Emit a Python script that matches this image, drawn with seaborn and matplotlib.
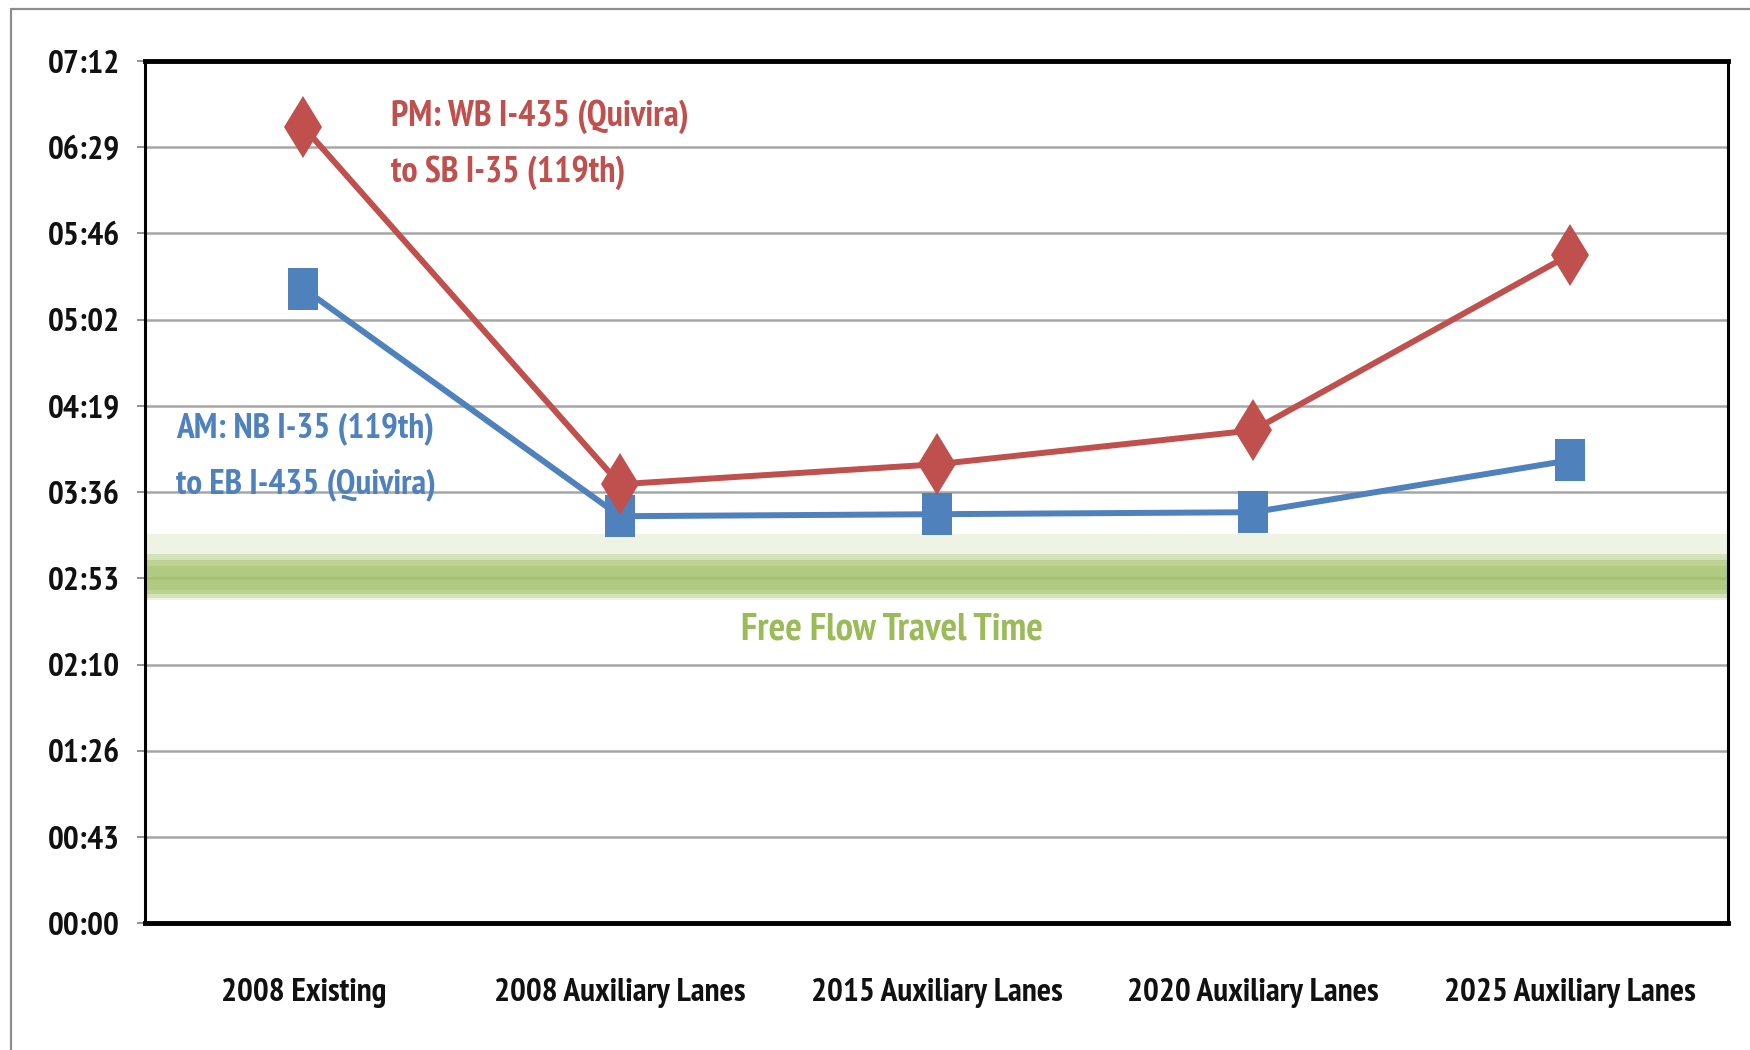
import numpy as np
import pandas as pd
import matplotlib
matplotlib.use("Agg")
import matplotlib.pyplot as plt
from matplotlib.ticker import MultipleLocator, FixedLocator, FuncFormatter
from matplotlib.lines import Line2D
import seaborn as sns

# data (travel time in seconds)
scenarios = ["2008 Existing", "2008 Auxiliary Lanes", "2015 Auxiliary Lanes",
             "2020 Auxiliary Lanes", "2025 Auxiliary Lanes"]
pm_times = [399, 220, 230, 247, 335]
am_times = [318, 204, 205, 206, 232]
free_flow = 172.8

pm_label = ["PM: WB I-435 (Quivira)", "to SB I-35 (119th)"]
am_label = ["AM: NB I-35 (119th)", "to EB I-435 (Quivira)"]
ff_label = "Free Flow Travel Time"

df = pd.DataFrame({"scenario": scenarios, "PM": pm_times, "AM": am_times})

sns.set_style("white")
plt.rcParams['font.family'] = ['PT Sans Narrow', 'Carlito', 'DejaVu Sans']

RED = "#c0504d"
BLUE = "#4f81bd"
GREEN = "#9bbb59"

fig = plt.figure(figsize=(17.5, 10.5), dpi=100)
ax = fig.add_axes([0.0829, 0.1205, 0.9046, 0.8214])

# free flow band (soft glow)
ax.axhspan(162, 195, color="#eef3e3", lw=0, zorder=1)
ax.axhspan(163, 185, color="#d3e2b8", lw=0, zorder=1.1)
ax.axhspan(165, 182, color="#bcd293", lw=0, zorder=1.2)
ax.axhspan(167, 179, color="#b0ca82", lw=0, zorder=1.25)
ax.axhline(free_flow, color="#a4c174", lw=2, zorder=1.3)

sq = [(-0.73, -1), (0.73, -1), (0.73, 1), (-0.73, 1), (-0.73, -1)]
sns.lineplot(data=df, x="scenario", y="AM", ax=ax, color=BLUE, lw=4.3,
             marker=sq, markersize=30, markeredgewidth=0, sort=False, zorder=3)
sns.lineplot(data=df, x="scenario", y="PM", ax=ax, color=RED, lw=4.3,
             marker="d", markersize=32, markeredgewidth=0, sort=False, zorder=4)

ax.set_xlim(-0.5, 4.5)
ax.set_ylim(0, 432)
ax.set_xlabel("")
ax.set_ylabel("")

ax.yaxis.set_major_locator(MultipleLocator(43.2))
ax.yaxis.set_major_formatter(FuncFormatter(
    lambda v, p: "%02d:%02d" % divmod(int(round(v)), 60)))
ax.grid(axis="y", color="#a6a6a6", lw=1.8, zorder=0)
ax.set_axisbelow(True)

ax.xaxis.set_minor_locator(FixedLocator(np.arange(-0.5, 5, 1.0)))
ax.tick_params(axis="x", which="major", length=0, pad=39, labelsize=24)
ax.tick_params(axis="x", which="minor", length=11, width=1.2, color="#808080",
               direction="out")
ax.tick_params(axis="y", length=6, width=1.2, color="#808080", pad=12,
               labelsize=24, direction="out", left=True)
for lab in ax.get_xticklabels() + ax.get_yticklabels():
    lab.set_fontweight("bold")
    lab.set_color("#111111")

for side in ["top", "bottom"]:
    ax.spines[side].set_linewidth(3.5)
for side in ["left", "right"]:
    ax.spines[side].set_linewidth(2.2)
for s in ax.spines.values():
    s.set_color("black")
    s.set_zorder(5)

for line, yv in zip(pm_label, [404, 376]):
    ax.text(0.277, yv, line, color=RED, fontsize=26, fontweight="bold",
            ha="left", va="center")
for line, yv in zip(am_label, [248, 220]):
    ax.text(-0.402, yv, line, color=BLUE, fontsize=25.5, fontweight="bold",
            ha="left", va="center")
ax.text(1.86, 147, ff_label, color=GREEN, fontsize=28, fontweight="bold",
        ha="center", va="center")

# outer frame
yt = 1 - 9 / 1050
xl = 11 / 1750
fig.add_artist(Line2D([xl, 1], [yt, yt], color="#8c8c8c", lw=1.6))
fig.add_artist(Line2D([xl, xl], [0, yt], color="#8c8c8c", lw=1.6))

fig.savefig("out.png", dpi=100)
